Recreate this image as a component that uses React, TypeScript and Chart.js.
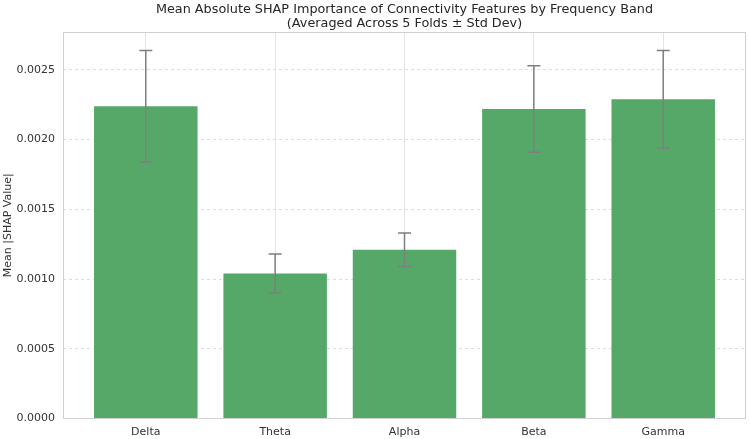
import React, { useEffect, useRef } from "react";
import { Chart, registerables } from "chart.js";

Chart.register(...registerables);

// Frequency bands and their mean |SHAP| importance across folds
const bands = ["Delta", "Theta", "Alpha", "Beta", "Gamma"];
const meanShap = [0.00224, 0.00104, 0.00121, 0.00222, 0.00229];
const stdShap = [0.0004, 0.00014, 0.00012, 0.00031, 0.00035];

const titleLines = [
  "Mean Absolute SHAP Importance of Connectivity Features by Frequency Band",
  "(Averaged Across 5 Folds \u00b1 Std Dev)",
];

const FONT = "'DejaVu Sans', 'Liberation Sans', sans-serif";

// y range extends 5% above the tallest error bar
const yMax = Math.max(...meanShap.map((m, i) => m + stdShap[i])) * 1.05;

const framePlugin = {
  id: "frame",
  afterDatasetsDraw(chart: any) {
    const { ctx, chartArea } = chart;
    ctx.save();
    ctx.strokeStyle = "#d0d0d0";
    ctx.lineWidth = 1;
    ctx.strokeRect(
      Math.round(chartArea.left) + 0.5,
      Math.round(chartArea.top) + 0.5,
      Math.round(chartArea.right - chartArea.left) - 1,
      Math.round(chartArea.bottom - chartArea.top) - 1
    );
    ctx.restore();
  },
};

const errorBarPlugin = {
  id: "errorBars",
  afterDatasetsDraw(chart: any) {
    const { ctx } = chart;
    const xs = chart.scales.x;
    const ys = chart.scales.y;
    ctx.save();
    ctx.strokeStyle = "#7f7f7f";
    ctx.lineWidth = 1.5;
    meanShap.forEach((m, i) => {
      const x = xs.getPixelForValue(i);
      const top = ys.getPixelForValue(m + stdShap[i]);
      const bot = ys.getPixelForValue(m - stdShap[i]);
      const cap = 6.5;
      ctx.beginPath();
      ctx.moveTo(x, top);
      ctx.lineTo(x, bot);
      ctx.moveTo(x - cap, top);
      ctx.lineTo(x + cap, top);
      ctx.moveTo(x - cap, bot);
      ctx.lineTo(x + cap, bot);
      ctx.stroke();
    });
    ctx.restore();
  },
};

const titlePlugin = {
  id: "twoLineTitle",
  afterDraw(chart: any) {
    const { ctx, chartArea } = chart;
    const cx = (chartArea.left + chartArea.right) / 2;
    ctx.save();
    ctx.fillStyle = "#262626";
    ctx.font = `12.8px ${FONT}`;
    ctx.textAlign = "center";
    ctx.textBaseline = "middle";
    ctx.fillText(titleLines[0], cx, 9.5);
    ctx.fillText(titleLines[1], cx, 24);
    ctx.restore();
  },
};

export default function App() {
  const canvasRef = useRef<HTMLCanvasElement | null>(null);

  useEffect(() => {
    document.body.style.margin = "0";
    const canvas = canvasRef.current;
    if (!canvas) return;
    Chart.defaults.font.family = FONT;

    const chart = new Chart(canvas, {
      type: "bar",
      data: {
        datasets: [
          {
            label: "Mean |SHAP Value|",
            data: meanShap.map((v, i) => ({ x: i, y: v })),
            backgroundColor: "#55a868",
            borderWidth: 0,
            barPercentage: 0.8,
            categoryPercentage: 1.0,
          },
        ],
      },
      options: {
        animation: false,
        responsive: false,
        maintainAspectRatio: false,
        layout: { padding: { top: 32, right: 4, left: 0, bottom: 0 } },
        plugins: {
          legend: { display: false },
          tooltip: { enabled: false },
          title: { display: false },
        },
        scales: {
          x: {
            type: "linear",
            min: -0.64,
            max: 4.64,
            offset: false,
            grid: {
              color: "#e3e3e3",
              lineWidth: 1,
              drawTicks: false,
              offset: false,
            },
            border: { display: false },
            ticks: {
              stepSize: 1,
              includeBounds: false,
              autoSkip: false,
              maxRotation: 0,
              padding: 7,
              color: "#333333",
              font: { size: 11 },
              callback: (v: any) => bands[Number(v)] ?? "",
            },
            afterFit: (s: any) => {
              s.height = 20.5;
            },
          },
          y: {
            type: "linear",
            min: 0,
            max: yMax,
            grid: {
              color: "#dddddd",
              lineWidth: 1,
              drawTicks: false,
            },
            border: { display: false, dash: [3, 3] },
            ticks: {
              stepSize: 0.0005,
              includeBounds: false,
              padding: 8,
              color: "#333333",
              font: { size: 11 },
              callback: (v: any) => Number(v).toFixed(4),
            },
            title: {
              display: true,
              text: "Mean |SHAP Value|",
              color: "#333333",
              font: { size: 11 },
              padding: { top: 2, bottom: 0 },
            },
            afterFit: (s: any) => {
              s.width = 63;
            },
          },
        },
      },
      plugins: [framePlugin, errorBarPlugin, titlePlugin],
    } as any);

    return () => chart.destroy();
  }, []);

  return (
    <div style={{ width: 750, height: 439, background: "#ffffff" }}>
      <canvas ref={canvasRef} width={750} height={439} style={{ display: "block" }} />
    </div>
  );
}
